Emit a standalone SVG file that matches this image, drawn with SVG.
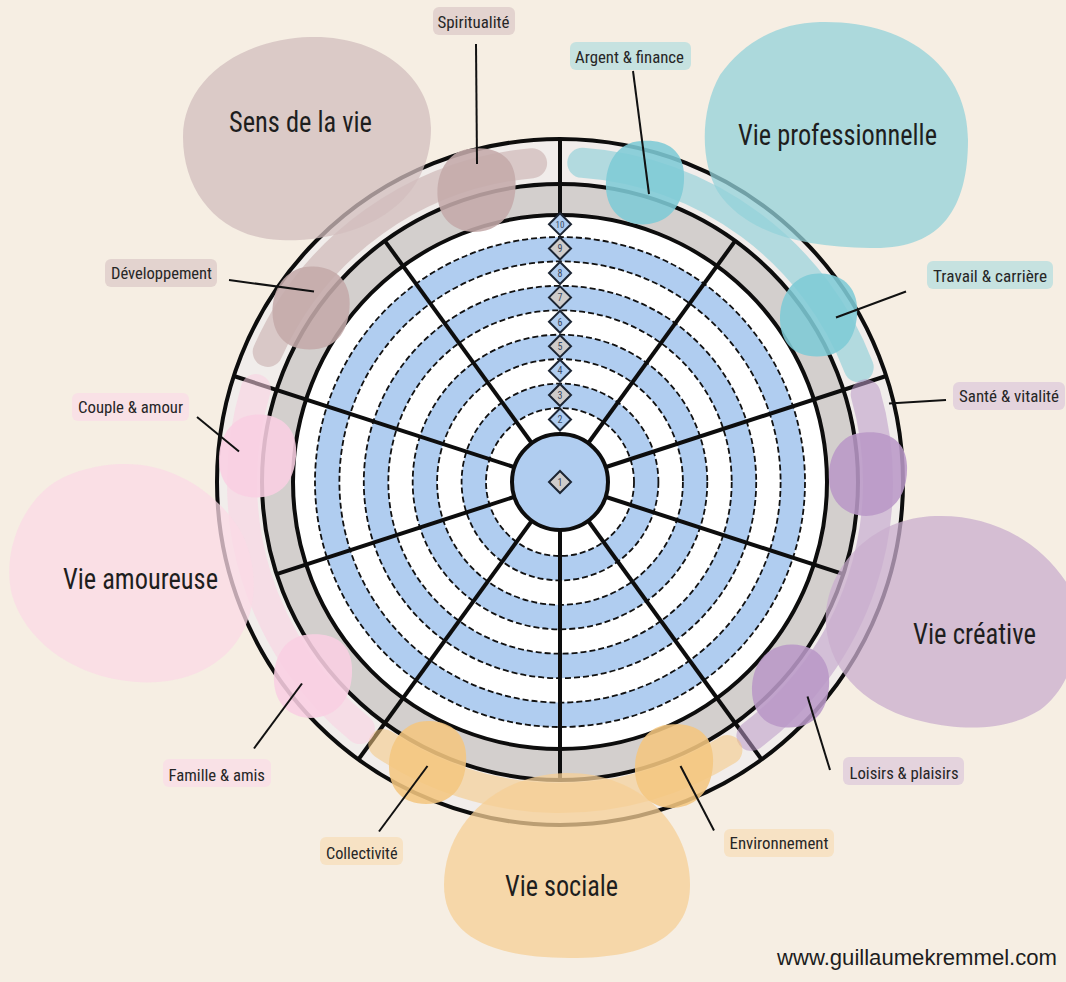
<svg xmlns="http://www.w3.org/2000/svg" xmlns:xlink="http://www.w3.org/1999/xlink" width="1066" height="982" viewBox="0 0 1066 982">
  <style>
    .cond { font-family: "Liberation Sans Narrow", "Roboto Condensed", "DejaVu Sans Condensed", "Liberation Sans", sans-serif; font-stretch: condensed; fill: #1e1e1e; }
    .title { font-size: 29px; }
    .lbl { font-size: 16px; fill: #262626; }
    .num { font-size: 10px; fill: #3b4a62; text-anchor: middle; }
    .ring { fill: none; stroke: #0d0d0d; stroke-width: 4; }
    .hub { fill: #b0cdf0; stroke: #0d0d0d; stroke-width: 4; }
    .dash { fill: none; stroke: #111; stroke-width: 1.8; stroke-dasharray: 6 3; }
    .spoke { stroke: #0d0d0d; stroke-width: 4; stroke-linecap: butt; }
    .band { fill: none; stroke-width: 30; stroke-linecap: round; opacity: 0.55; }
    .dm { stroke: #1c2533; stroke-width: 2; }
    .dm-b { fill: #b0cdf0; }
    .dm-g { fill: #cfcccb; }
    .big { opacity: 0.75; }
    .small { opacity: 0.88; }
    .conn line { stroke: #111; stroke-width: 2; }
    /* area palettes */
    .c-sens { fill: #c4aaaa; stroke: #c4aaaa; }
    .c-pro { fill: #7ecbd6; stroke: #7ecbd6; }
    .c-crea { fill: #b999c7; stroke: #b999c7; }
    .c-soc { fill: #f4c680; stroke: #f4c680; }
    .c-amour { fill: #f9cfe2; stroke: #f9cfe2; }
    .band.c-sens, .band.c-pro, .band.c-crea, .band.c-soc, .band.c-amour { fill: none; }
    .small { stroke: none !important; }
    .bg-sens { fill: #e3d3cf; }
    .bg-pro { fill: #c6e2e0; }
    .bg-crea { fill: #e4d3dd; }
    .bg-soc { fill: #f7e2c4; }
    .bg-amour { fill: #f9e1e6; }
  </style>
  <defs>
    <path id="blobA" d="M -4,-41 C 20,-43 38,-33 39,-8 C 40,16 30,38 4,42 C -20,45 -38,30 -39,6 C -40,-18 -28,-40 -4,-41 Z"/>
    <path id="blobB" d="M 2,-42 C 26,-41 40,-26 38,0 C 36,24 24,41 -2,41 C -26,41 -40,26 -39,0 C -38,-24 -22,-43 2,-42 Z"/>
    <path id="diamond" d="M 0,-11 L 11,0 L 0,11 L -11,0 Z"/>
  </defs>

  <rect width="1066" height="982" fill="#f6eee3"/>

  <!-- wheel: rings, score bands, spokes and scale -->
  <g id="wheel">
    <circle cx="560" cy="482" r="343" fill="#f1edeb"/>
    <circle cx="560" cy="482" r="298" fill="#d3cfcd"/>
    <circle cx="560" cy="482" r="267" fill="#ffffff"/>
    <g fill="none" stroke="#b0cdf0">
      <circle cx="560" cy="482" r="86.2" stroke-width="24.4"/>
      <circle cx="560" cy="482" r="135.1" stroke-width="24.4"/>
      <circle cx="560" cy="482" r="184" stroke-width="24.5"/>
      <circle cx="560" cy="482" r="232.8" stroke-width="24.4"/>
    </g>
    <g class="dash">
      <circle cx="560" cy="482" r="74"/>
      <circle cx="560" cy="482" r="98.4"/>
      <circle cx="560" cy="482" r="122.9"/>
      <circle cx="560" cy="482" r="147.3"/>
      <circle cx="560" cy="482" r="171.7"/>
      <circle cx="560" cy="482" r="196.2"/>
      <circle cx="560" cy="482" r="220.6"/>
      <circle cx="560" cy="482" r="245"/>
    </g>
    <g class="spoke">
      <line x1="560" y1="215" x2="560" y2="139"/>
      <line x1="560" y1="440" x2="560" y2="184" transform="rotate(36 560 482)"/>
      <line x1="560" y1="440" x2="560" y2="139" transform="rotate(72 560 482)"/>
      <line x1="560" y1="440" x2="560" y2="184" transform="rotate(108 560 482)"/>
      <line x1="560" y1="440" x2="560" y2="139" transform="rotate(144 560 482)"/>
      <line x1="560" y1="440" x2="560" y2="184" transform="rotate(180 560 482)"/>
      <line x1="560" y1="440" x2="560" y2="139" transform="rotate(216 560 482)"/>
      <line x1="560" y1="440" x2="560" y2="184" transform="rotate(252 560 482)"/>
      <line x1="560" y1="440" x2="560" y2="139" transform="rotate(288 560 482)"/>
      <line x1="560" y1="440" x2="560" y2="184" transform="rotate(324 560 482)"/>
    </g>
    <circle class="ring" cx="560" cy="482" r="343"/>
    <circle class="ring" cx="560" cy="482" r="298"/>
    <circle class="ring" cx="560" cy="482" r="267"/>
    <circle class="hub" cx="560" cy="482" r="48"/>
    <g id="scale">
      <use href="#diamond" x="560" y="482" class="dm dm-g"/>
      <use href="#diamond" x="560" y="419.5" class="dm dm-b"/>
      <use href="#diamond" x="560" y="395" class="dm dm-g"/>
      <use href="#diamond" x="560" y="370.7" class="dm dm-b"/>
      <use href="#diamond" x="560" y="346.2" class="dm dm-g"/>
      <use href="#diamond" x="560" y="321.8" class="dm dm-b"/>
      <use href="#diamond" x="560" y="297.4" class="dm dm-g"/>
      <use href="#diamond" x="560" y="273" class="dm dm-b"/>
      <use href="#diamond" x="560" y="248.5" class="dm dm-g"/>
      <use href="#diamond" x="560" y="224.2" class="dm dm-b"/>
      <g class="cond num">
        <text x="560" y="485.7">1</text>
        <text x="560" y="423.2">2</text>
        <text x="560" y="398.7">3</text>
        <text x="560" y="374.4">4</text>
        <text x="560" y="349.9">5</text>
        <text x="560" y="325.5">6</text>
        <text x="560" y="301.1">7</text>
        <text x="560" y="276.7">8</text>
        <text x="560" y="252.2">9</text>
        <text x="560" y="227.9" font-size="9">10</text>
      </g>
    </g>
  </g>

  <!-- coloured brush bands along the outer ring -->
  <g id="bands">
    <path class="band c-sens" d="M 267.7 351.9 A 320 320 0 0 1 532.1 163.2"/>
    <path class="band c-pro" d="M 582.3 162.8 A 320 320 0 0 1 858.7 367.3"/>
    <path class="band c-crea" d="M 865.7 394.4 A 318 318 0 0 1 751.4 736"/>
    <path class="band c-soc" d="M 727.4 750 A 316 316 0 0 1 383.3 744"/>
    <path class="band c-amour" d="M 359.9 729.1 A 318 318 0 0 1 255.9 389"/>
  </g>

  <!-- main life areas -->
  <g id="sens-de-la-vie">
    <path class="big" fill="#d1bebe" d="M 310,37 C 380,35 431,78 431,128 C 431,185 392,224 330,236 C 310,240 295,241 280,240 C 222,238 183,195 183,137 C 183,80 240,39 310,37 Z"/>
    <text class="cond title" x="229" y="132" textLength="143" lengthAdjust="spacingAndGlyphs">Sens de la vie</text>
  </g>
  <g id="vie-professionnelle">
    <path class="big" fill="#93d1d9" d="M 820,22 C 910,20 968,70 968,140 C 968,210 940,250 870,248 C 800,247 745,232 718,192 C 700,162 700,110 720,75 C 745,40 780,23 820,22 Z"/>
    <text class="cond title" x="738" y="145" textLength="199" lengthAdjust="spacingAndGlyphs">Vie professionnelle</text>
  </g>
  <g id="vie-creative">
    <path class="big" fill="#c9aece" d="M 935,516 C 990,514 1040,540 1068,585 C 1085,620 1080,680 1040,710 C 1005,732 960,730 925,722 C 870,710 830,675 826,625 C 823,570 870,518 935,516 Z"/>
    <text class="cond title" x="913" y="644" textLength="123" lengthAdjust="spacingAndGlyphs">Vie créative</text>
  </g>
  <g id="vie-sociale">
    <path class="big" fill="#f5cf95" d="M 565,773 C 640,772 690,825 690,885 C 690,935 650,958 570,958 C 490,958 444,935 444,885 C 444,825 495,775 565,773 Z"/>
    <text class="cond title" x="505" y="896" textLength="113" lengthAdjust="spacingAndGlyphs">Vie sociale</text>
  </g>
  <g id="vie-amoureuse">
    <path class="big" fill="#fbdae5" d="M 120,464 C 170,462 215,490 240,530 C 262,570 258,625 225,655 C 195,682 155,686 120,680 C 70,672 25,640 12,595 C 2,555 20,505 55,482 C 75,470 98,465 120,464 Z"/>
    <text class="cond title" x="63" y="589" textLength="155" lengthAdjust="spacingAndGlyphs">Vie amoureuse</text>
  </g>

  <!-- sub-area markers on the ring -->
  <g id="spiritualite"><use href="#blobA" x="476.5" y="189.5" class="small c-sens"/></g>
  <g id="developpement"><use href="#blobB" x="311.5" y="308.5" class="small c-sens"/></g>
  <g id="argent-finance"><use href="#blobA" x="645" y="182" class="small c-pro"/></g>
  <g id="travail-carriere"><use href="#blobB" x="819" y="315.5" class="small c-pro"/></g>
  <g id="sante-vitalite"><use href="#blobA" x="868" y="473.5" class="small c-crea"/></g>
  <g id="loisirs-plaisirs"><use href="#blobB" x="791" y="686.5" class="small c-crea"/></g>
  <g id="environnement"><use href="#blobA" x="674" y="765.5" class="small c-soc"/></g>
  <g id="collectivite"><use href="#blobB" x="428" y="763" class="small c-soc"/></g>
  <g id="famille-amis"><use href="#blobA" x="313" y="675.5" class="small c-amour"/></g>
  <g id="couple-amour"><use href="#blobB" x="258" y="456.5" class="small c-amour"/></g>

  <!-- leader lines -->
  <g id="connectors" class="conn">
    <line x1="476" y1="44" x2="477" y2="164"/>
    <line x1="633" y1="71" x2="649" y2="194"/>
    <line x1="229" y1="280" x2="314" y2="291.5"/>
    <line x1="906" y1="291.5" x2="836" y2="317.5"/>
    <line x1="197" y1="417" x2="239" y2="451.5"/>
    <line x1="946" y1="400" x2="889" y2="403.5"/>
    <line x1="254" y1="748.5" x2="302" y2="683.5"/>
    <line x1="830" y1="770" x2="807.5" y2="696.5"/>
    <line x1="379" y1="831.5" x2="427.5" y2="766"/>
    <line x1="714" y1="830.5" x2="680.5" y2="766"/>
  </g>

  <!-- labels -->
  <g id="labels" class="cond lbl">
    <g id="label-spiritualite"><rect class="bg-sens" x="433" y="7" width="82" height="28" rx="6"/><text x="437.5" y="27.5" textLength="72" lengthAdjust="spacingAndGlyphs">Spiritualité</text></g>
    <g id="label-argent"><rect class="bg-pro" x="570" y="42" width="121" height="28" rx="6"/><text x="575" y="63" textLength="109" lengthAdjust="spacingAndGlyphs">Argent &amp; finance</text></g>
    <g id="label-developpement"><rect class="bg-sens" x="105" y="259" width="112" height="28" rx="6"/><text x="111" y="279" textLength="101" lengthAdjust="spacingAndGlyphs">Développement</text></g>
    <g id="label-travail"><rect class="bg-pro" x="927" y="261" width="126" height="28" rx="6"/><text x="933" y="282" textLength="114" lengthAdjust="spacingAndGlyphs">Travail &amp; carrière</text></g>
    <g id="label-couple"><rect class="bg-amour" x="72" y="393" width="117" height="28" rx="6"/><text x="78" y="413" textLength="105" lengthAdjust="spacingAndGlyphs">Couple &amp; amour</text></g>
    <g id="label-sante"><rect class="bg-crea" x="953" y="382" width="112" height="28" rx="6"/><text x="959" y="402" textLength="100" lengthAdjust="spacingAndGlyphs">Santé &amp; vitalité</text></g>
    <g id="label-famille"><rect class="bg-amour" x="163" y="759" width="108" height="28" rx="6"/><text x="168.5" y="781" textLength="96.5" lengthAdjust="spacingAndGlyphs">Famille &amp; amis</text></g>
    <g id="label-loisirs"><rect class="bg-crea" x="843" y="757" width="121" height="28" rx="6"/><text x="849.5" y="778.5" textLength="109" lengthAdjust="spacingAndGlyphs">Loisirs &amp; plaisirs</text></g>
    <g id="label-collectivite"><rect class="bg-soc" x="320" y="837" width="83" height="28" rx="6"/><text x="326" y="858.5" textLength="71.5" lengthAdjust="spacingAndGlyphs">Collectivité</text></g>
    <g id="label-environnement"><rect class="bg-soc" x="724" y="829" width="110" height="28" rx="6"/><text x="729.5" y="849" textLength="99" lengthAdjust="spacingAndGlyphs">Environnement</text></g>
  </g>

  <text x="777" y="965" font-family="Liberation Sans, Arial, sans-serif" font-size="22" fill="#1d1d1d" textLength="280" lengthAdjust="spacingAndGlyphs">www.guillaumekremmel.com</text>
</svg>
